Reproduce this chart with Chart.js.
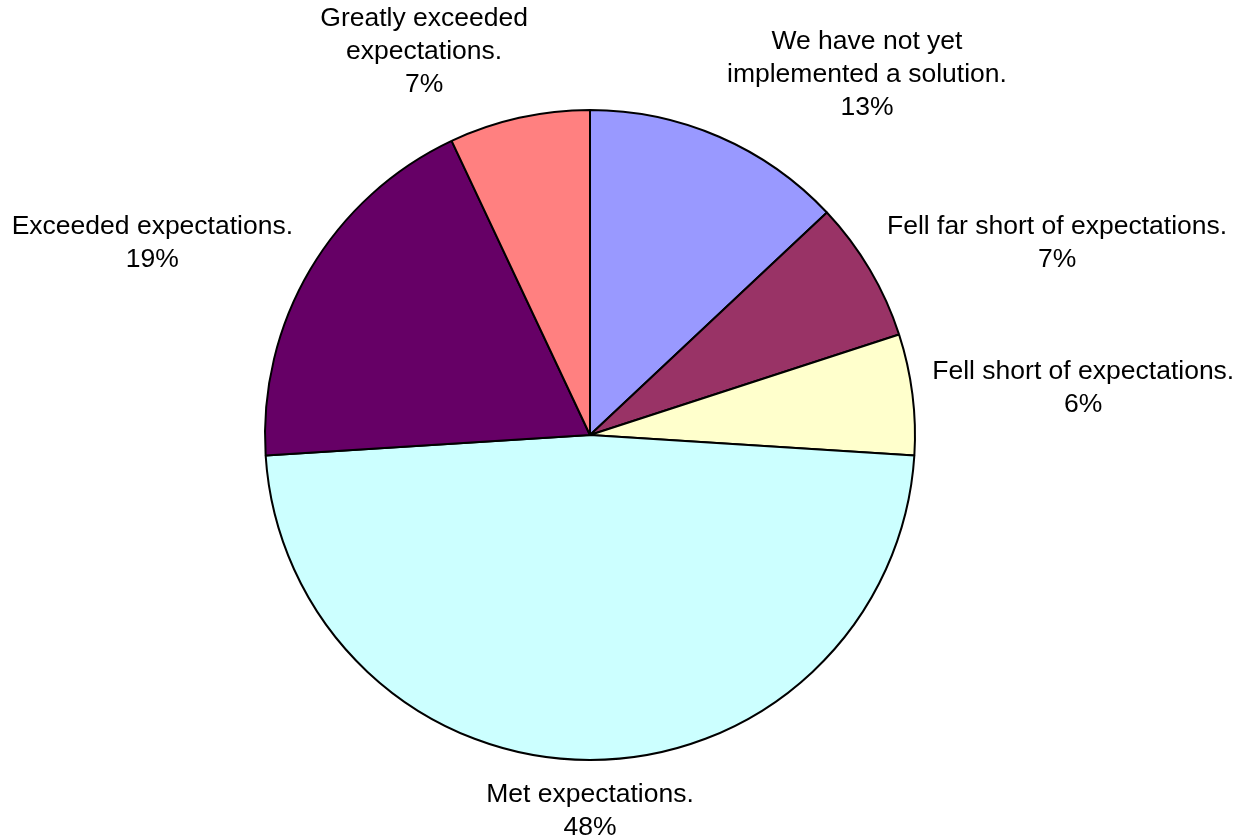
<!DOCTYPE html>
<html>
<head>
<meta charset="utf-8">
<script src="https://cdn.jsdelivr.net/npm/chart.js@4"></script>
<style>
  body { margin: 0; background: #fff; }
  #wrap { width: 1236px; height: 838px; position: relative; }
</style>
</head>
<body>
<div id="wrap"><canvas id="pieChart"></canvas></div>
<script>
// Data (clockwise from 12 o'clock)
const categories = [
    ['We have not yet', 'implemented a solution.'],
    ['Fell far short of expectations.'],
    ['Fell short of expectations.'],
    ['Met expectations.'],
    ['Exceeded expectations.'],
    ['Greatly exceeded', 'expectations.']
];
const percents = [13, 7, 6, 48, 19, 7];
const sliceColors = ['#9999FF', '#993366', '#FFFFCC', '#CCFFFF', '#660066', '#FF8080'];

const FONT = '26.5px "Liberation Sans", Arial, sans-serif';
const LINE_H = 33;

// draws the outside labels, like Excel's "outside end"
const outsideLabels = {
    id: 'outsideLabels',
    afterDatasetsDraw(chart) {
        const ctx = chart.ctx;
        const arcs = chart.getDatasetMeta(0).data;
        ctx.save();
        ctx.font = FONT;
        ctx.fillStyle = '#000';
        ctx.textAlign = 'center';
        ctx.textBaseline = 'middle';
        arcs.forEach((arc, i) => {
            const lines = categories[i].concat([percents[i] + '%']);
            const w = Math.max(...lines.map(l => ctx.measureText(l).width));
            const h = lines.length * LINE_H;
            const mid = (arc.startAngle + arc.endAngle) / 2;
            const dx = Math.cos(mid), dy = Math.sin(mid);
            const ax = arc.x + (arc.outerRadius + 20) * dx;
            const ay = arc.y + (arc.outerRadius + 18) * dy;
            const sx = Math.max(-1, Math.min(1, dx * 4));
            const cx = ax + sx * w / 2;
            const cy = ay + dy * h / 2;
            lines.forEach((l, k) => {
                ctx.fillText(l, cx, cy - h / 2 + LINE_H * (k + 0.5));
            });
        });
        ctx.restore();
    }
};

new Chart(document.getElementById('pieChart').getContext('2d'), {
    type: 'pie',
    data: {
        labels: categories.map(c => c.join(' ')),
        datasets: [{
            data: percents,
            backgroundColor: sliceColors,
            borderColor: '#000',
            borderWidth: 2
        }]
    },
    options: {
        responsive: true,
        maintainAspectRatio: false,
        animation: false,
        layout: { padding: { top: 109, bottom: 77, left: 264, right: 320 } },
        plugins: { legend: { display: false }, tooltip: { enabled: false } }
    },
    plugins: [outsideLabels]
});
</script>
</body>
</html>
